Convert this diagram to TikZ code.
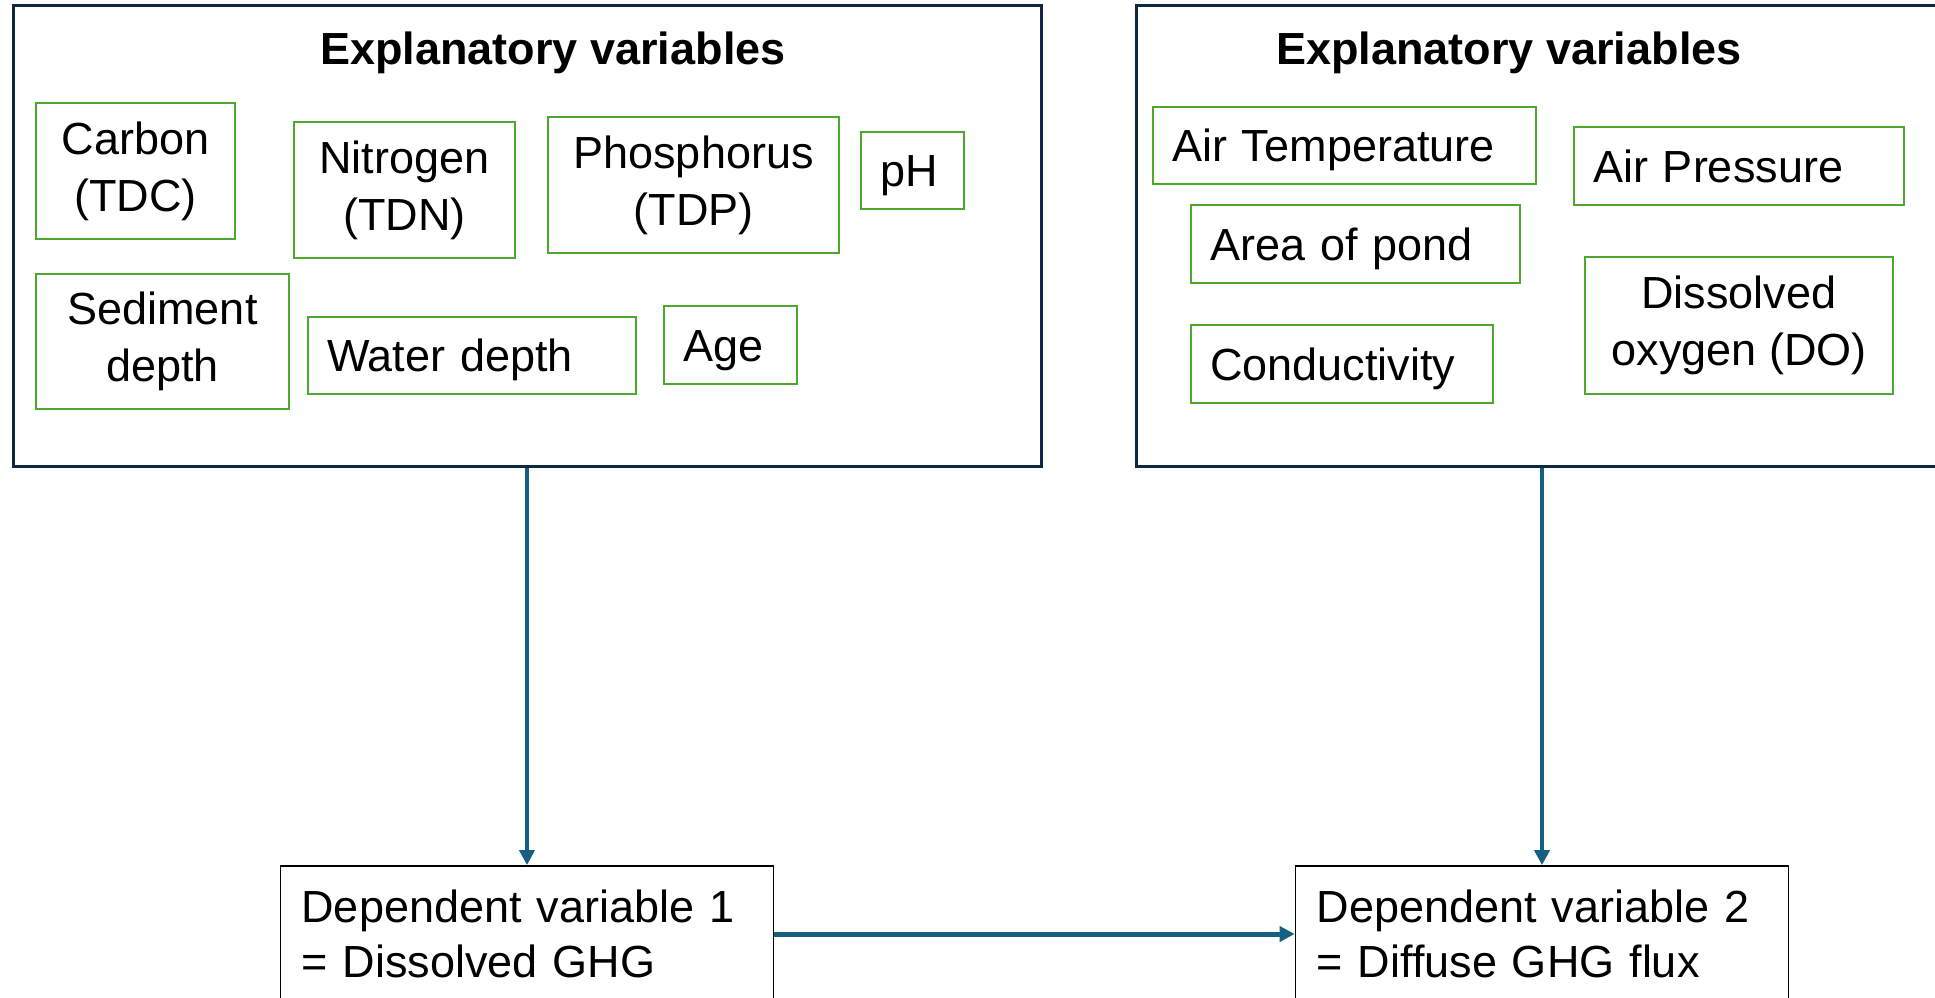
\documentclass[tikz,border=0pt]{standalone}
\usepackage{fontspec}
\setmainfont{Liberation Sans}
\usetikzlibrary{arrows.meta}
\definecolor{framecol}{HTML}{0E2841}
\definecolor{vgreen}{HTML}{4EA72E}
\definecolor{arrowblue}{HTML}{156082}
\begin{document}
\begin{tikzpicture}[x=1pt,y=-1pt,
  bigbox/.style={draw=framecol, line width=3pt, rectangle, inner sep=0pt},
  gbox/.style={draw=vgreen, line width=2pt, rectangle, anchor=north west,
    font=\fontsize{45}{57}\selectfont},
  sbox/.style={gbox, align=left, inner xsep=19pt, inner ysep=0pt,
    text height=32pt, text depth=0pt},
  mbox/.style={gbox, align=center, inner sep=0pt},
  depbox/.style={draw=black, line width=1.8pt, rectangle, minimum width=493pt,
    minimum height=136pt, inner xsep=21pt, inner ysep=0pt, text width=451pt,
    align=left, font=\fontsize{45}{55}\selectfont},
  titletext/.style={font=\bfseries\fontsize{45}{54}\selectfont, anchor=base, inner sep=0pt},
  conn/.style={draw=arrowblue, -{Triangle[length=15pt,width=15pt]}}
]
\useasboundingbox (0,0) rectangle (1935,998);
\fill[white] (0,0) rectangle (1935,998);

% big frames
\node[bigbox, minimum width=1028pt, minimum height=460.5pt] (leftbig) at (527,235.75) {};
\node[bigbox, minimum width=812pt, minimum height=460.5pt] (rightbig) at (1542,235.75) {};

\node[titletext] (lefttitle) at (553,65) {Explanatory variables};
\node[titletext] (righttitle) at (1509,65) {Explanatory variables};

% left variables
\node[mbox, minimum width=199pt, minimum height=136pt] (carbon) at (35,102) {Carbon\\(TDC)};
\node[mbox, minimum width=221pt, minimum height=136pt] (nitrogen) at (293,121) {Nitrogen\\(TDN)};
\node[mbox, minimum width=291pt, minimum height=136pt] (phosphorus) at (547,116) {Phosphorus\\(TDP)};
\node[sbox, minimum width=103pt, minimum height=77pt, text width=65pt] (ph) at (860,131) {pH};
\node[mbox, minimum width=253pt, minimum height=135pt] (sediment) at (35,273) {Sediment\\depth};
\node[sbox, minimum width=328pt, minimum height=77pt, text width=290pt] (water) at (307,316) {Water depth};
\node[sbox, minimum width=133pt, minimum height=78pt, text width=95pt] (age) at (663,305) {Age};

% right variables
\node[sbox, minimum width=383pt, minimum height=77pt, text width=345pt] (airtemp) at (1152,106) {Air Temperature};
\node[sbox, minimum width=330pt, minimum height=78pt, text width=292pt] (airpress) at (1573,126) {Air Pressure};
\node[sbox, minimum width=329pt, minimum height=78pt, text width=291pt] (area) at (1190,204) {Area of pond};
\node[sbox, minimum width=302pt, minimum height=78pt, text width=264pt] (cond) at (1190,324) {Conductivity};
\node[mbox, minimum width=308pt, minimum height=137pt] (dox) at (1584,256) {Dissolved\\oxygen (DO)};

% dependent variables
\node[depbox] (dep1) at (527,934) {Dependent variable 1\\= Dissolved GHG};
\node[depbox] (dep2) at (1542,934) {Dependent variable 2\\= Diffuse GHG flux};

% connectors
\draw[conn, line width=4pt] (leftbig.south) -- (dep1.north);
\draw[conn, line width=4pt] (rightbig.south) -- (dep2.north);
\draw[conn, line width=5pt] (dep1.east) -- (dep2.west);
\end{tikzpicture}
\end{document}
